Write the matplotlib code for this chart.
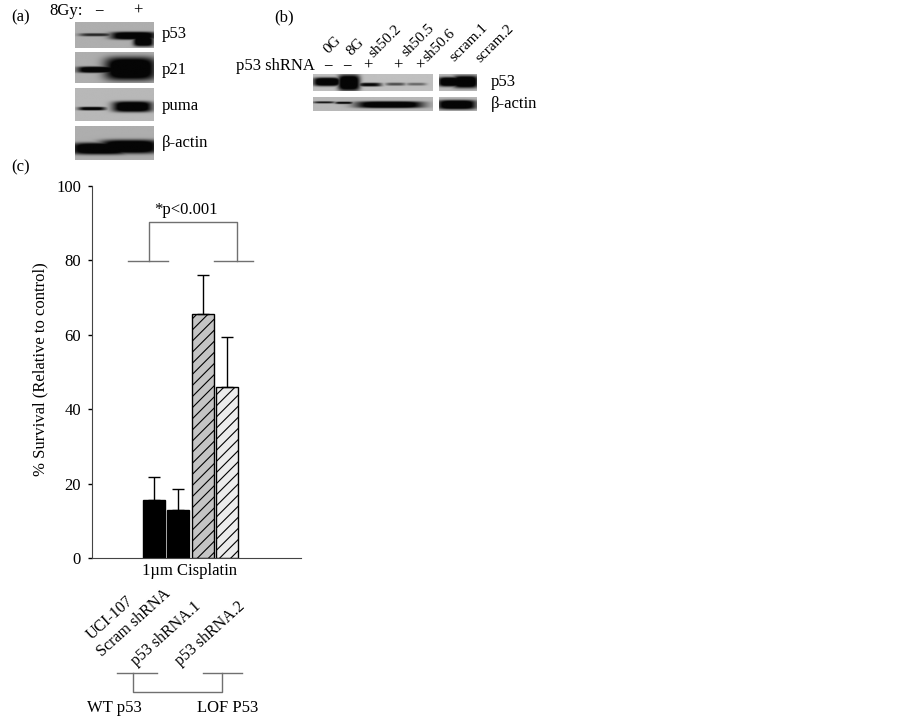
import numpy as np
import matplotlib
matplotlib.use('Agg')
import matplotlib.pyplot as plt

plt.rcParams['font.family'] = ['Liberation Serif', 'DejaVu Serif']
plt.rcParams['hatch.linewidth'] = 0.8

W, H = 902, 721
FS = 12

# bar chart data
groups = ['UCI-107', 'Scram shRNA', 'p53 shRNA.1', 'p53 shRNA.2']
survival = [15.6, 12.8, 65.6, 46.0]
err_up = [6.2, 5.7, 10.4, 13.4]
y_ticks = [0, 20, 40, 60, 80, 100]

# blot bands: centre x, centre y, half width, half height, darkness (picture pixels)
bands_p53 = [(96, 35, 17, 1.6, .6), (134, 36, 23, 4, 1), (144, 42, 10, 5, 1)]
bands_p21 = [(97, 70, 20, 3.2, 1), (131, 69, 26, 12, 1)]
bands_puma = [(92, 109, 14, 1.8, .85), (133, 107, 20, 5.5, 1)]
bands_actin = [(100, 149, 30, 6, 1), (130, 147, 30, 7, 1)]
bands_b_p53 = [(327, 82, 14, 4.5, 1), (349, 83, 11, 8.5, 1), (370, 85, 12, 2, .75),
               (396, 84.5, 10, 1.6, .45), (417, 84.5, 10, 1.5, .35)]
bands_b_actin = [(324, 102.5, 11, 1.1, .7), (344, 103, 9, 1.2, .85), (390, 105, 34, 3.6, 1)]
bands_b2_p53 = [(450, 82, 12, 5, 1), (466, 82, 13, 6.5, 1)]
bands_b2_actin = [(457, 105, 20, 5, 1)]


def blot(ax, x0, x1, y0, y1, bands, bg=0.68):
    xx, yy = np.meshgrid(np.arange(x0, x1 + 1, 0.5), np.arange(y0, y1 + 1, 0.5))
    dark = np.zeros_like(xx)
    for cx, cy, hw, hh, d in bands:
        dark = np.maximum(dark, d * np.exp(-((xx - cx) / hw) ** 4 - ((yy - cy) / hh) ** 4))
    img = bg * (1 - np.clip(dark * 1.35, 0, 1) * 0.97)
    ax.imshow(img, cmap='gray', vmin=0, vmax=1, extent=(x0, x1, y1, y0), aspect='auto',
              interpolation='bilinear', zorder=1)


fig = plt.figure(figsize=(W / 100, H / 100), dpi=100)

# main chart
ax = fig.add_axes([92 / W, 1 - 558 / H, (301 - 92) / W, (558 - 186) / H])
pos = np.arange(4)
colors = ['black', 'black', '#c4c4c4', '#ececec']
hatches = [None, None, '///', '///']
for i in pos:
    ax.bar(i, survival[i], width=0.9, color=colors[i], edgecolor='black', linewidth=1,
           hatch=hatches[i])
    ax.errorbar(i, survival[i], yerr=[[0], [err_up[i]]], color='black', capsize=4.5,
                elinewidth=1, capthick=1)
ax.set_xlim(-2.55, 6.05)
ax.set_ylim(0, 100)
ax.set_yticks(y_ticks)
ax.set_xticks([])
ax.tick_params(axis='y', labelsize=FS, length=3, width=1, pad=5)
ax.set_ylabel('% Survival (Relative to control)', fontsize=FS)
ax.yaxis.set_label_coords(-0.21, 0.508)
ax.spines['top'].set_visible(False)
ax.spines['right'].set_visible(False)
ax.spines['bottom'].set_color('#444444')
ax.spines['left'].set_color('#444444')

# overlay in picture pixels for blots and annotations
ov = fig.add_axes([0, 0, 1, 1], facecolor='none')
ov.axis('off')

blot(ov, 75, 154, 22, 48, bands_p53)
blot(ov, 75, 154, 52, 83, bands_p21)
blot(ov, 75, 154, 88, 121, bands_puma, bg=0.72)
blot(ov, 75, 154, 126, 160, bands_actin)
blot(ov, 313, 433, 74, 91, bands_b_p53, bg=0.75)
blot(ov, 313, 433, 97, 111, bands_b_actin, bg=0.72)
blot(ov, 439, 477, 74, 91, bands_b2_p53, bg=0.72)
blot(ov, 439, 477, 97, 111, bands_b2_actin, bg=0.72)
ov.set_xlim(0, W)
ov.set_ylim(H, 0)


def txt(x, y, s, rot=0, ha='left', va='center', size=FS):
    ov.text(x, y, s, fontsize=size, rotation=rot, ha=ha, va=va, rotation_mode='anchor')


txt(11, 17, '(a)')
txt(49, 11, '8Gy:')
txt(99, 11, '\u2212', ha='center')
txt(138, 11, '+', ha='center')
for y, s in zip([34, 70, 106, 143], ['p53', 'p21', 'puma', '\u03b2-actin']):
    txt(162, y, s)

txt(274, 17, '(b)')
for x, y, s in zip([335, 358, 380, 413, 434, 461, 487],
                   [56, 58, 60, 59, 64, 64, 65],
                   ['0G', '8G', 'sh50.2', 'sh50.5', 'sh50.6', 'scram.1', 'scram.2']):
    txt(x - 5, y, s, rot=45, va='bottom', size=11)
txt(236, 66, 'p53 shRNA')
for x, s in zip([328, 347, 368, 398, 420], ['\u2212', '\u2212', '+', '+', '+']):
    txt(x, 66, s, ha='center')
txt(491, 82, 'p53')
txt(491, 104, '\u03b2-actin')

txt(11, 167, '(c)')
txt(186, 210, '*p<0.001', ha='center')
txt(190, 571, '1\u00b5m Cisplatin', ha='center')
for x, y, s in zip([89, 99, 134, 178], [637, 654, 663, 663], groups):
    txt(x, y, s, rot=42, va='center', size=11.5)
txt(87, 708, 'WT p53')
txt(197, 708, 'LOF P53')

GRAY = '#707070'
ov.plot([128, 168], [261, 261], color=GRAY, lw=1)
ov.plot([214, 253], [261, 261], color=GRAY, lw=1)
ov.plot([149, 149, 237, 237], [261, 222, 222, 261], color=GRAY, lw=1)
ov.plot([117, 157], [673, 673], color=GRAY, lw=1)
ov.plot([203, 242], [673, 673], color=GRAY, lw=1)
ov.plot([133, 133, 222, 222], [673, 692, 692, 673], color=GRAY, lw=1)

fig.savefig('out.png', dpi=100)
